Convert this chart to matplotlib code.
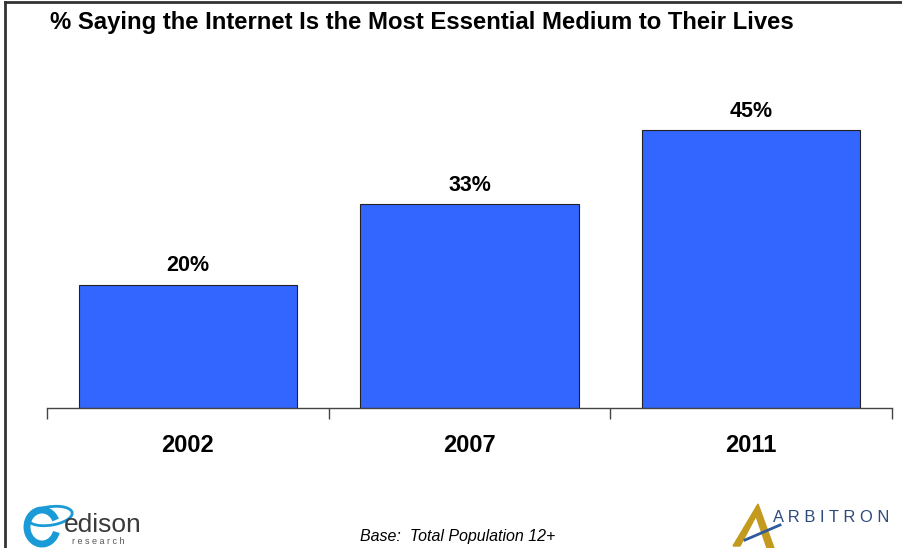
import matplotlib
matplotlib.use("Agg")
import matplotlib.pyplot as plt
from matplotlib.lines import Line2D
from matplotlib.patches import Ellipse, Polygon, Arc

years = ["2002", "2007", "2011"]
pcts = [20, 33, 45]

plt.rcParams["font.family"] = ["Liberation Sans", "DejaVu Sans"]

W, H = 902, 548
fig = plt.figure(figsize=(W / 100, H / 100), dpi=100)

# plot area: baseline at y=408px, x from 47 to 892
ax = fig.add_axes([47 / W, 140 / H, 845 / W, 308.5 / H])
x = range(len(years))
ax.bar(x, pcts, width=0.774, color="#3366FF", edgecolor="#222222", linewidth=0.8)
ax.set_xlim(-0.5, 2.5)
ax.set_ylim(0, 50)

for xi, v in zip(x, pcts):
    ax.annotate(str(v) + "%", (xi, v), xytext=(0, 6), textcoords="offset points",
                ha="center", va="bottom", fontsize=15.5, fontweight="bold")

for s in ["top", "right", "left"]:
    ax.spines[s].set_visible(False)
ax.spines["bottom"].set_color("#444444")
ax.spines["bottom"].set_linewidth(1.0)
ax.set_yticks([])
ax.set_xticks([-0.5, 0.5, 1.5, 2.5])
ax.set_xticklabels([])
ax.tick_params(axis="x", which="major", direction="out", length=8, width=1.0, color="#444444")
ax.set_xticks(list(x), minor=True)
ax.set_xticklabels(years, minor=True, fontsize=17, fontweight="bold")
ax.tick_params(axis="x", which="minor", length=0, pad=19)

fig.text(50 / W, 1 - 22 / H, "% Saying the Internet Is the Most Essential Medium to Their Lives",
         ha="left", va="center", fontsize=17.2, fontweight="bold")
fig.text(360 / W, 1 - 537 / H, "Base:  Total Population 12+", ha="left", va="center",
         fontsize=11.5, style="italic")

# slide frame (top and left edges)
fig.add_artist(Line2D([5 / W, 1], [1 - 2 / H, 1 - 2 / H], transform=fig.transFigure,
                      color="#333333", linewidth=2))
fig.add_artist(Line2D([5 / W, 5 / W], [0, 1 - 2 / H], transform=fig.transFigure,
                      color="#333333", linewidth=2))

# edison research logo (rough)
fig.add_artist(Arc((42 / W, 1 - 527 / H), 30 / W, 34 / H, theta1=40, theta2=330,
                   transform=fig.transFigure, edgecolor="#1a9ad6", linewidth=5))
fig.add_artist(Ellipse((50 / W, 1 - 516 / H), 46 / W, 18 / H, angle=20,
                       transform=fig.transFigure, fill=False, edgecolor="#1a9ad6", linewidth=2))
fig.text(64 / W, 1 - 525 / H, "edison", ha="left", va="center", fontsize=19, color="#3a3a3a")
fig.text(72 / W, 1 - 542 / H, "r e s e a r c h", ha="left", va="center", fontsize=6.5,
         color="#555555")

# arbitron logo (rough)
fig.add_artist(Polygon([(733 / W, 1 - 546 / H), (758 / W, 1 - 504 / H), (774 / W, 1 - 548 / H),
                        (767 / W, 1 - 548 / H), (756 / W, 1 - 516 / H), (740 / W, 1 - 546 / H)],
                       closed=True, transform=fig.transFigure, color="#C49A1E"))
fig.add_artist(Line2D([745 / W, 780 / W], [1 - 540 / H, 1 - 525 / H], transform=fig.transFigure,
                      color="#2E5A9E", linewidth=2))
fig.text(773 / W, 1 - 517 / H, "A R B I T R O N", ha="left", va="center", fontsize=11.9,
         color="#2E4A7D")

fig.savefig("out.png", dpi=100)
